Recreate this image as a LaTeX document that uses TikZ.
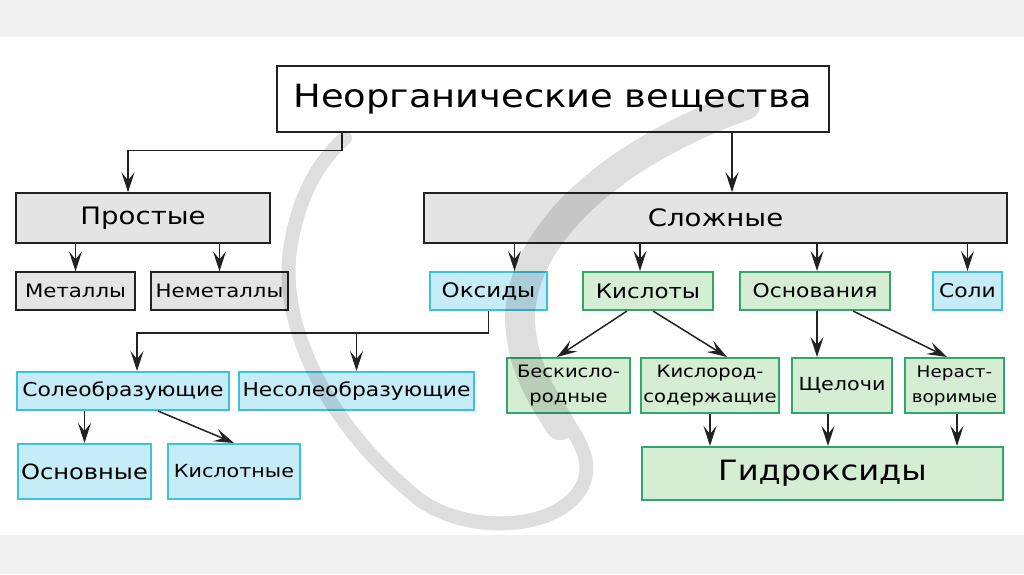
\documentclass[tikz,border=0pt]{standalone}
\usepackage{fontspec}
\setmainfont[FakeStretch=1.15]{DejaVu Sans}
\usetikzlibrary{arrows.meta}
\definecolor{bandgrey}{HTML}{F1F1F1}
\definecolor{boxgrey}{HTML}{E4E4E4}
\definecolor{oxblue}{HTML}{C6ECF8}
\definecolor{oxedge}{HTML}{3CC2DF}
\definecolor{acgreen}{HTML}{D5EDD3}
\definecolor{acedge}{HTML}{30A66C}
\definecolor{inkline}{HTML}{222222}
\newcommand{\fsz}[2]{\fontsize{#1}{#2}\selectfont}

\begin{document}
\begin{tikzpicture}[x=1pt, y=-1pt,
  box/.style={draw=inkline, line width=1.4pt, inner sep=0pt, align=center},
  whitebox/.style={box, fill=white},
  greybox/.style={box, fill=boxgrey},
  bluebox/.style={box, draw=oxedge, fill=oxblue, line width=2pt},
  greenbox/.style={box, draw=acedge, fill=acgreen, line width=2pt},
  sz/.style 2 args={minimum width=#1pt, minimum height=#2pt},
  arr/.style={draw=inkline, line width=1.5pt, -{Stealth[length=20pt,width=13pt,inset=8pt]}}]
  \useasboundingbox (0,0) rectangle (1024,574);

  % ---- page bands ----
  \fill[bandgrey] (0,0) rectangle (1024,37);
  \fill[bandgrey] (0,535) rectangle (1024,574);

  % ---- top and first level ----
  \node[whitebox, sz={552}{66}, font=\fsz{32}{38}] (top) at (553,99) {Неорганические вещества};
  \node[greybox, sz={254}{50}, font=\fsz{24}{28}] (simple) at (143,218) {Простые};
  \node[greybox, sz={583}{50}, font=\fsz{24}{28}] (complex) at (715.5,218) {Сложные};

  % ---- second level ----
  \node[greybox, sz={119}{38}, font=\fsz{18.5}{24}] (metals) at (75.5,291) {Металлы};
  \node[greybox, sz={137}{38}, font=\fsz{18.5}{24}] (nonmetals) at (219.5,291) {Неметаллы};
  \node[bluebox, sz={117}{38}, font=\fsz{20}{24}] (oxides) at (488.5,291) {Оксиды};
  \node[greenbox, sz={130}{38}, font=\fsz{20}{24}] (acids) at (648,291) {Кислоты};
  \node[greenbox, sz={150}{38}, font=\fsz{19}{24}] (bases) at (815,291) {Основания};
  \node[bluebox, sz={69}{38}, font=\fsz{19}{24}] (salts) at (967.5,291) {Соли};

  % ---- oxides branch ----
  \node[bluebox, sz={212}{38}, font=\fsz{19}{24}] (saltform) at (123,391) {Солеобразующие};
  \node[bluebox, sz={235}{38}, font=\fsz{19}{24}] (nonsalt) at (356.5,391) {Несолеобразующие};
  \node[bluebox, sz={133}{55}, font=\fsz{21}{26}] (basicox) at (84.5,471.5) {Основные};
  \node[bluebox, sz={132}{55}, font=\fsz{18}{24}] (acidox) at (234,471.5) {Кислотные};

  % ---- acids and bases branch ----
  \node[greenbox, sz={123}{55}, font=\fsz{17}{25}] (anoxic) at (568.5,385.5) {Бескисло-\\родные};
  \node[greenbox, sz={138}{55}, font=\fsz{17}{25}] (oxyacid) at (710,385.5) {Кислород-\\содержащие};
  \node[greenbox, sz={100}{55}, font=\fsz{18}{24}] (alkali) at (842,385.5) {Щелочи};
  \node[greenbox, sz={99}{55}, font=\fsz{16}{25}] (insol) at (954.5,385.5) {Нераст-\\воримые};
  \node[greenbox, sz={361}{53}, font=\fsz{28}{32}] (hydrox) at (822.5,473.5) {Гидроксиды};

  % ---- connectors ----
  \draw[arr] ([xshift=-211pt]top.south) -- ++(0,18) -| ([xshift=-15pt]simple.north);
  \draw[arr] ([xshift=16.5pt]complex.north |- top.south) -- ([xshift=16.5pt]complex.north);
  \foreach \n in {metals, nonmetals}
    \draw[arr] (\n.north |- simple.south) -- (\n.north);
  \foreach \n/\dx in {oxides/26, acids/-8, bases/2, salts/0}
    \draw[arr] ([xshift=\dx pt]\n.north |- complex.south) -- ([xshift=\dx pt]\n.north);

  \draw[arr] (oxides.south) -- ++(0,22) coordinate (oxbus) -| ([xshift=14pt]saltform.north);
  \draw[arr] (nonsalt.north |- oxbus) -- (nonsalt.north);
  \draw[arr] (basicox.north |- saltform.south) -- (basicox.north);
  \draw[arr] ([xshift=35pt]saltform.south) -- (acidox.north);

  \draw[arr] ([xshift=-21pt]acids.south) -- ([xshift=-11.5pt]anoxic.north);
  \draw[arr] ([xshift=5pt]acids.south) -- ([xshift=17pt]oxyacid.north);
  \draw[arr] ([xshift=-25pt]alkali.north |- bases.south) -- ([xshift=-25pt]alkali.north);
  \draw[arr] ([xshift=38pt]bases.south) -- ([xshift=-7.5pt]insol.north);
  \draw[arr] (oxyacid.south) -- (oxyacid.south |- hydrox.north);
  \draw[arr] ([xshift=-14pt]alkali.south) -- ([xshift=-14pt]alkali.south |- hydrox.north);
  \draw[arr] ([xshift=2.5pt]insol.south) -- ([xshift=2.5pt]insol.south |- hydrox.north);

  % ---- faint watermark loop over the chart ----
  \begin{scope}[transparency group, opacity=0.13]
    \draw[black, line width=14pt, line cap=round]
      (745,105) .. controls (620,150) and (520,230) .. (520,320)
      .. controls (525,400) and (610,440) .. (580,490)
      .. controls (555,530) and (470,535) .. (420,500)
      .. controls (320,420) and (280,320) .. (290,250)
      .. controls (298,195) and (320,160) .. (345,138);
    \draw[black, line width=30pt, line cap=round]
      (745,105) .. controls (620,150) and (520,230) .. (520,320)
      .. controls (522,370) and (545,400) .. (560,425);
  \end{scope}
\end{tikzpicture}
\end{document}
